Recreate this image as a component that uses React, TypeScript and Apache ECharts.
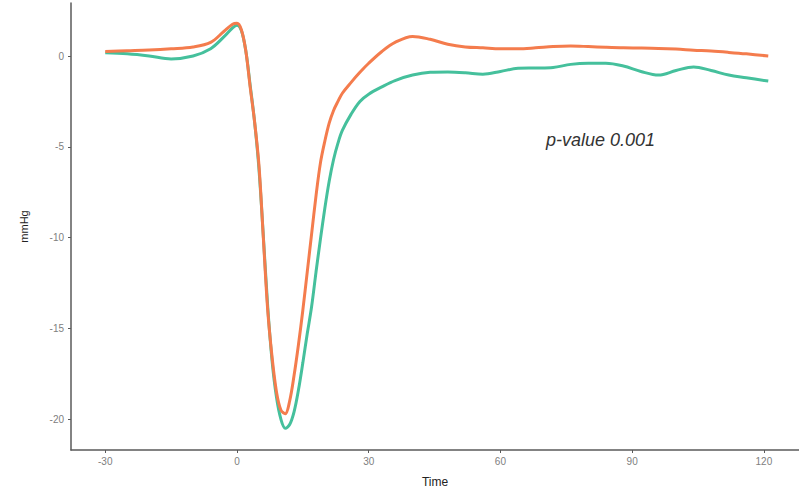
import React, { useEffect, useRef } from "react";
import * as echarts from "echarts";

const time = [-30, -25, -20, -15, -10, -6, -3, -1, 0, 1, 2, 3, 4, 5, 6, 7, 8, 9, 10, 11, 12, 13, 14, 15, 16, 17, 18, 19, 20, 21, 22, 23, 24, 26, 28, 30, 33, 36, 40, 44, 48, 52, 56, 60, 64, 68, 72, 76, 80, 84, 88, 92, 96, 100, 104, 108, 112, 116, 121];

const orangeValues = [0.25, 0.29, 0.33, 0.4, 0.5, 0.75, 1.35, 1.75, 1.8, 1.45, 0.3, -1.7, -3.6, -6.0, -10.0, -14.0, -16.6, -18.5, -19.5, -19.7, -19.0, -17.6, -15.9, -14.0, -11.9, -9.8, -7.7, -5.9, -4.7, -3.7, -3.0, -2.5, -2.05, -1.45, -0.9, -0.4, 0.25, 0.75, 1.08, 0.92, 0.65, 0.5, 0.45, 0.4, 0.4, 0.45, 0.52, 0.55, 0.52, 0.48, 0.45, 0.44, 0.42, 0.38, 0.32, 0.27, 0.2, 0.12, 0.0];

const tealValues = [0.18, 0.12, 0.0, -0.16, 0.0, 0.4, 1.05, 1.55, 1.7, 1.4, 0.3, -1.6, -3.6, -6.2, -9.9, -13.8, -16.8, -18.8, -20.0, -20.5, -20.3, -19.6, -18.4, -16.9, -15.3, -13.8, -11.9, -10.1, -8.4, -6.9, -5.7, -4.8, -4.1, -3.2, -2.5, -2.1, -1.7, -1.35, -1.05, -0.9, -0.88, -0.92, -1.0, -0.85, -0.68, -0.66, -0.63, -0.46, -0.4, -0.4, -0.55, -0.85, -1.05, -0.8, -0.6, -0.8, -1.05, -1.2, -1.38];

const xTicks = [-30, 0, 30, 60, 90, 120];
const yTicks = [-20, -15, -10, -5, 0];
const annotation = "p-value 0.001";

export default function App() {
  const ref = useRef<HTMLDivElement>(null);
  useEffect(() => {
    if (!ref.current) return;
    const chart = echarts.init(ref.current, null, { renderer: "svg" });
    const axisColor = "#5a5a5a";
    chart.setOption({
      animation: false,
      backgroundColor: "#ffffff",
      grid: { left: 71, right: 0, top: 3, bottom: 43, containLabel: false },
      xAxis: {
        type: "value",
        min: -37.8,
        max: 128,
        name: "Time",
        nameLocation: "middle",
        nameGap: 26,
        nameTextStyle: { color: "#222", fontSize: 12, fontFamily: "Liberation Sans, Arial, sans-serif" },
        axisLine: { show: true, onZero: false, lineStyle: { color: axisColor, width: 1.5 } },
        axisTick: { show: true, length: 3, customValues: xTicks, lineStyle: { color: axisColor } },
        axisLabel: { customValues: xTicks, color: "#808080", fontSize: 10, margin: 6, fontFamily: "Liberation Sans, Arial, sans-serif" },
        splitLine: { show: false },
      },
      yAxis: {
        type: "value",
        min: -21.7,
        max: 2.92,
        name: "mmHg",
        nameLocation: "middle",
        nameGap: 42,
        nameRotate: 90,
        nameTextStyle: { color: "#222", fontSize: 11, fontFamily: "Liberation Sans, Arial, sans-serif" },
        axisLine: { show: true, onZero: false, lineStyle: { color: axisColor, width: 1.5 } },
        axisTick: { show: true, length: 3, customValues: yTicks, lineStyle: { color: axisColor } },
        axisLabel: { customValues: yTicks, color: "#808080", fontSize: 10, margin: 7, fontFamily: "Liberation Sans, Arial, sans-serif" },
        splitLine: { show: false },
      },
      series: [
        {
          type: "line",
          name: "teal",
          data: time.map((t, i) => [t, tealValues[i]]),
          smooth: 0.35,
          symbol: "none",
          lineStyle: { color: "#45c09c", width: 3 },
          z: 2,
        },
        {
          type: "line",
          name: "orange",
          data: time.map((t, i) => [t, orangeValues[i]]),
          smooth: 0.35,
          symbol: "none",
          lineStyle: { color: "#f47c4d", width: 3 },
          z: 3,
        },
      ],
      graphic: [
        {
          type: "text",
          left: 546,
          top: 131,
          style: {
            text: annotation,
            fontSize: 18,
            fontStyle: "italic",
            fontFamily: "Liberation Sans, Arial, sans-serif",
            fill: "#333",
          },
        },
      ],
    });
    return () => chart.dispose();
  }, []);
  return <div ref={ref} style={{ width: 799, height: 493, position: "absolute", left: 0, top: 0 }} />;
}
